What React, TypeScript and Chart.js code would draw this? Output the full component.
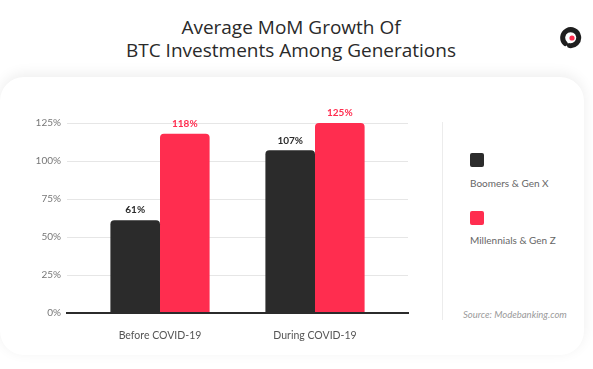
import React, { useEffect, useRef } from "react";
import { Chart, registerables } from "chart.js";

Chart.register(...registerables);

const titleLines = ["Average MoM Growth Of", "BTC Investments Among Generations"];
const categories = ["Before COVID-19", "During COVID-19"];
const seriesNames = ["Boomers & Gen X", "Millennials & Gen Z"];
const boomersGenX = [61, 107];
const millennialsGenZ = [118, 125];
const yTicks = [0, 25, 50, 75, 100, 125];
const sourceText = "Source: Modebanking.com";

const seriesColors = ["#2b2b2b", "#ff2d4f"];
const FONT = "Lato, 'Open Sans', sans-serif";

const valueLabels = {
  id: "valueLabels",
  afterDatasetsDraw(chart: any) {
    const ctx = chart.ctx;
    ctx.save();
    ctx.font = "bold 10px " + FONT;
    ctx.textAlign = "center";
    ctx.textBaseline = "middle";
    chart.data.datasets.forEach((ds: any, di: number) => {
      const meta = chart.getDatasetMeta(di);
      meta.data.forEach((bar: any, i: number) => {
        ctx.fillStyle = seriesColors[di];
        ctx.fillText(ds.data[i].y + "%", bar.x, bar.y - 10);
      });
    });
    ctx.restore();
  },
};

function BarChart() {
  const ref = useRef<HTMLCanvasElement | null>(null);
  useEffect(() => {
    if (!ref.current) return;
    const series = [boomersGenX, millennialsGenZ];
    const chart = new Chart(ref.current, {
      type: "bar",
      data: {
        datasets: series.map((vals, di) => ({
          label: seriesNames[di],
          data: vals.map((y, i) => ({ x: i, y })),
          backgroundColor: seriesColors[di],
          borderRadius: { topLeft: 4, topRight: 4, bottomLeft: 0, bottomRight: 0 },
          borderSkipped: false,
          categoryPercentage: 0.64,
          barPercentage: 1,
        })),
      },
      options: {
        animation: false,
        responsive: false,
        layout: { padding: { top: 123, right: 32, bottom: 26, left: 0 } },
        plugins: { legend: { display: false }, tooltip: { enabled: false } },
        scales: {
          x: {
            type: "linear",
            min: -0.6,
            max: 1.6,
            offset: false,
            afterBuildTicks: (s: any) => {
              s.ticks = categories.map((_, i) => ({ value: i }));
            },
            afterFit: (s: any) => {
              s.height = 30;
            },
            ticks: {
              callback: (v: any) => categories[v] ?? "",
              color: "#555",
              font: { family: FONT, size: 10.5 },
              padding: 8,
              autoSkip: false,
              maxRotation: 0,
            },
            grid: { display: false, offset: false },
            border: { display: true, color: "#2b2b2b", width: 2 },
          },
          y: {
            min: 0,
            max: 125,
            afterBuildTicks: (s: any) => {
              s.ticks = yTicks.map((v) => ({ value: v }));
            },
            afterFit: (s: any) => {
              s.width = 67;
            },
            ticks: {
              callback: (v: any) => v + "%",
              color: "#777",
              font: { family: FONT, size: 10 },
              padding: 6,
            },
            grid: {
              color: (c: any) => (c.tick && c.tick.value === 0 ? "#2b2b2b" : "#e6e6e6"),
              lineWidth: (c: any) => (c.tick && c.tick.value === 0 ? 2 : 1),
              drawTicks: false,
            },
            border: { display: false },
          },
        },
      } as any,
      plugins: [valueLabels],
    });
    return () => chart.destroy();
  }, []);
  return (
    <canvas
      ref={ref}
      width={440}
      height={369}
      style={{ position: "absolute", left: 0, top: 0, width: 440, height: 369 }}
    />
  );
}

export default function App() {
  return (
    <div
      style={{
        position: "absolute",
        left: 0,
        top: 0,
        width: 593,
        height: 369,
        overflow: "hidden",
        background: "#ffffff",
        fontFamily: FONT,
      }}
    >
      <div
        style={{
          position: "absolute",
          left: 0,
          top: 77,
          width: 584,
          height: 278,
          background: "#fff",
          borderRadius: 24,
          boxShadow: "0 -3px 14px rgba(0,0,0,0.07)",
        }}
      />
      {titleLines.map((t, i) => (
        <div
          key={i}
          style={{
            position: "absolute",
            left: 41,
            width: 500,
            top: 15 + i * 23,
            height: 24,
            lineHeight: "24px",
            textAlign: "center",
            fontSize: 19,
            fontWeight: 500,
            fontFamily: "'Open Sans', sans-serif",
            color: "#2a2a2a",
          }}
        >
          {t}
        </div>
      ))}
      <svg
        width={24}
        height={24}
        viewBox="0 0 24 24"
        style={{ position: "absolute", left: 560, top: 26 }}
      >
        <path
          d="M 5.2 17.5 A 8 8 0 1 1 9.5 19.6"
          fill="none"
          stroke="#1e1e1e"
          strokeWidth={5}
          strokeLinecap="round"
        />
        <circle cx={12} cy={12} r={2.6} fill="#ff2d4f" />
      </svg>
      <BarChart />
      <div
        style={{
          position: "absolute",
          left: 442,
          top: 122,
          width: 1,
          height: 198,
          background: "#ececec",
        }}
      />
      {seriesNames.map((n, i) => (
        <React.Fragment key={n}>
          <div
            style={{
              position: "absolute",
              left: 470,
              top: 153 + i * 58,
              width: 14,
              height: 14,
              borderRadius: 2,
              background: seriesColors[i],
            }}
          />
          <div
            style={{
              position: "absolute",
              left: 470,
              top: 176 + i * 57,
              lineHeight: "14px",
              fontSize: 10,
              color: "#666",
              whiteSpace: "nowrap",
            }}
          >
            {n}
          </div>
        </React.Fragment>
      ))}
      <div
        style={{
          position: "absolute",
          left: 463,
          top: 309,
          lineHeight: "12px",
          fontSize: 9.5,
          fontStyle: "italic",
          color: "#9a9a9a",
          whiteSpace: "nowrap",
        }}
      >
        {sourceText}
      </div>
    </div>
  );
}
